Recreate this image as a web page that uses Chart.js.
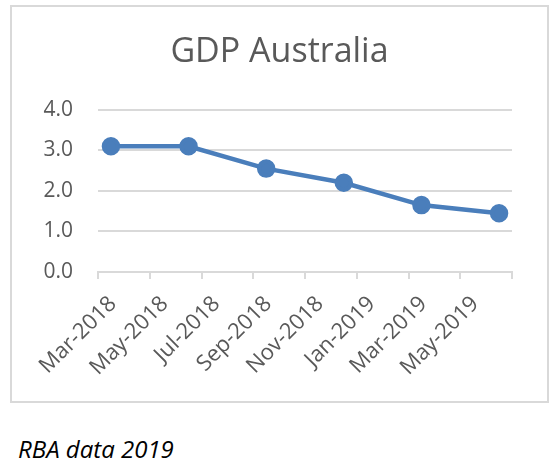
<!DOCTYPE html>
<html>
<head>
<meta charset="utf-8">
<script src="https://cdn.jsdelivr.net/npm/chart.js@4"></script>
<style>
    html, body { margin: 0; padding: 0; background: #fff; }
    body { width: 559px; height: 471px; position: relative; overflow: hidden; }
    #marco {
        position: absolute; left: 10px; top: 5px; width: 539px; height: 398px;
        box-sizing: border-box; border: 2px solid #d9d9d9;
    }
    #lienzo { position: absolute; left: 0; top: 0; width: 535px; height: 394px; }
    #fuente {
        position: absolute; left: 18px; top: 437px;
        font: italic 24px/24px "Open Sans", sans-serif; color: #000;
    }
</style>
</head>
<body>
<div id="marco"><div id="lienzo"><canvas id="gdpChart"></canvas></div></div>
<div id="fuente">RBA data 2019</div>
<script>
// Datos (crecimiento anual del PIB, %)
const trimestres = ['Mar-2018', 'Jun-2018', 'Sep-2018', 'Dec-2018', 'Mar-2019', 'Jun-2019'];
const valores = [3.1, 3.1, 2.55, 2.2, 1.65, 1.45];
const etiquetasEje = ['Mar-2018', 'May-2018', 'Jul-2018', 'Sep-2018', 'Nov-2018', 'Jan-2019', 'Mar-2019', 'May-2019'];
const ticksY = [0, 1, 2, 3, 4];

const meses = ['Jan', 'Feb', 'Mar', 'Apr', 'May', 'Jun', 'Jul', 'Aug', 'Sep', 'Oct', 'Nov', 'Dec'];

// meses desde el inicio del eje (Mar-2018)
function mesIndice(txt) {
    const [m, a] = txt.split('-');
    const inicio = etiquetasEje[0].split('-');
    return (Number(a) - Number(inicio[1])) * 12 + meses.indexOf(m) - meses.indexOf(inicio[0]);
}

// Excel coloca cada punto en el centro de su mes
const puntos = trimestres.map((t, i) => ({ x: mesIndice(t) + 0.5, y: valores[i] }));
const finEje = etiquetasEje.length * 2;

const gris = '#595959';
const linea = '#d9d9d9';

const ctx = document.getElementById('gdpChart').getContext('2d');
new Chart(ctx, {
    type: 'line',
    data: {
        datasets: [{
            label: 'GDP Australia',
            data: puntos,
            borderColor: '#4a7ebb',
            backgroundColor: '#4a7ebb',
            borderWidth: 4.5,
            pointRadius: 7,
            pointHoverRadius: 7,
            tension: 0
        }]
    },
    options: {
        responsive: true,
        maintainAspectRatio: false,
        animation: false,
        layout: { padding: 0 },
        plugins: {
            legend: { display: false },
            tooltip: { enabled: false },
            title: {
                display: true,
                text: 'GDP Australia',
                color: gris,
                font: { family: 'Open Sans', size: 34, weight: 'normal' },
                padding: { top: 25, bottom: 37 }
            }
        },
        scales: {
            x: {
                type: 'linear',
                min: 0,
                max: finEje,
                afterFit: s => { s.height = 129; },
                afterBuildTicks: s => {
                    s.ticks = etiquetasEje.concat(['']).map((_, i) => ({ value: i * 2 }));
                },
                grid: {
                    drawOnChartArea: false,
                    drawTicks: true,
                    tickLength: 7,
                    color: linea,
                    lineWidth: 2
                },
                border: { display: true, color: linea, width: 2 },
                ticks: {
                    autoSkip: false,
                    maxRotation: 45,
                    minRotation: 45,
                    padding: 12,
                    labelOffset: 15,
                    color: gris,
                    font: { family: 'Open Sans', size: 22 },
                    callback: v => etiquetasEje[v / 2] || ''
                }
            },
            y: {
                min: ticksY[0],
                max: ticksY[ticksY.length - 1],
                afterFit: s => { s.width = 86; },
                afterBuildTicks: s => { s.ticks = ticksY.map(v => ({ value: v })); },
                grid: { color: linea, lineWidth: 2, drawTicks: false },
                border: { display: false },
                ticks: {
                    padding: 25,
                    color: gris,
                    font: { family: 'Open Sans', size: 21 },
                    callback: v => v.toFixed(1)
                }
            },
            // eje vacio a la derecha: deja el margen del area de trazado
            margen: {
                position: 'right',
                afterFit: s => { s.width = 35; },
                grid: { drawOnChartArea: false, drawTicks: false },
                border: { display: false },
                ticks: { display: false }
            }
        }
    }
});
</script>
</body>
</html>
